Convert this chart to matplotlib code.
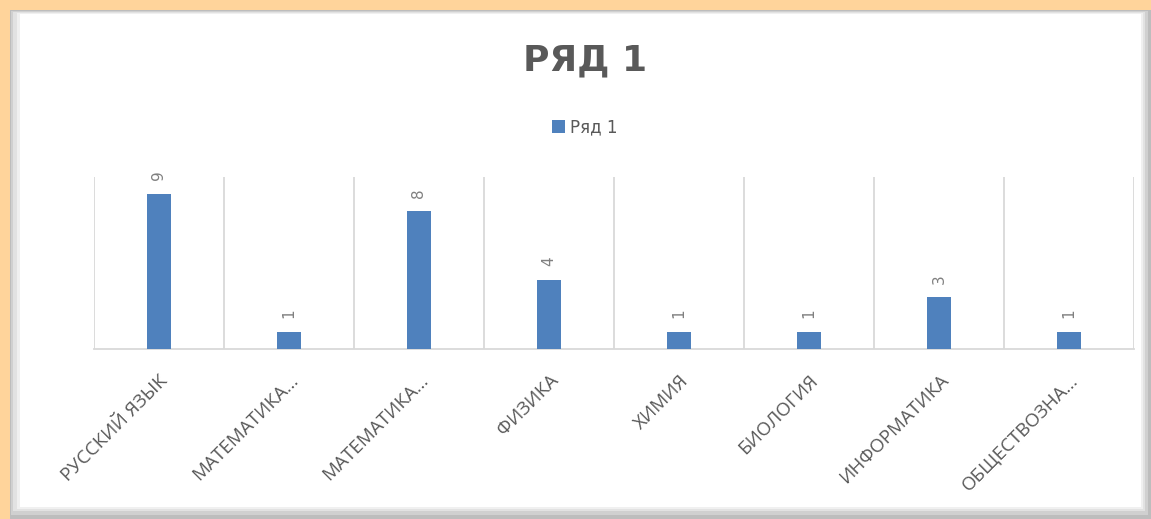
import matplotlib.pyplot as plt
from matplotlib.patches import Rectangle

# chart data
categories = ['РУССКИЙ ЯЗЫК', 'МАТЕМАТИКА…', 'МАТЕМАТИКА…', 'ФИЗИКА',
              'ХИМИЯ', 'БИОЛОГИЯ', 'ИНФОРМАТИКА', 'ОБЩЕСТВОЗНА…']
values = [9, 1, 8, 4, 1, 1, 3, 1]
series_name = 'Ряд 1'
title = 'РЯД 1'

bar_color = '#4F81BD'
grid_color = '#D9D9D9'
text_color = '#595959'

W, H = 1151, 519
fig = plt.figure(figsize=(W / 100, H / 100), dpi=100)
fig.patch.set_facecolor('#FFD49B')

# white card with a soft grey shadow
def px_rect(x0, y0, x1, y1, color):
    fig.patches.append(Rectangle((x0 / W, 1 - y1 / H), (x1 - x0) / W, (y1 - y0) / H,
                                 transform=fig.transFigure, facecolor=color,
                                 edgecolor='none', zorder=-5))

px_rect(10, 10, W, H, '#BDBDBD')
px_rect(11, 11, W - 3, H - 4, '#D0D0D0')
px_rect(13, 12, W - 6, H - 8, '#E2E2E2')
px_rect(17, 13, W - 8, H - 10, '#F0F0F0')
px_rect(20, 14, W - 10, H - 12, 'white')

ax = fig.add_axes([94 / W, 1 - 349 / H, (1134 - 94) / W, (349 - 177) / H])
ax.set_zorder(2)
ax.set_facecolor('none')
x = list(range(len(categories)))
bars = ax.bar(x, values, width=0.185, color=bar_color, label=series_name, zorder=3)

ax.set_xlim(-0.5, len(categories) - 0.5)
ax.set_ylim(0, 10)
ax.set_yticks([])

# vertical grid lines between categories
for b in [i - 0.5 for i in range(len(categories) + 1)]:
    ax.axvline(b, color=grid_color, linewidth=1.3, zorder=1)

for s in ['top', 'right', 'left']:
    ax.spines[s].set_visible(False)
ax.spines['bottom'].set_color(grid_color)
ax.spines['bottom'].set_linewidth(1.3)

ax.set_xticks(x)
ax.set_xticklabels(categories, rotation=45, ha='right', rotation_mode='anchor',
                   fontsize=13.5, color=text_color, family='Open Sans')
ax.tick_params(axis='x', length=0, pad=16)

for rect, v in zip(bars, values):
    ax.annotate(str(v), (rect.get_x() + rect.get_width() / 2, rect.get_height()),
                xytext=(0, 10), textcoords='offset points', rotation=90,
                ha='center', va='bottom', fontsize=11, color='#808080')

fig.text(585 / W, 1 - 60 / H, title, ha='center', va='center',
         fontsize=26, fontweight='bold', color=text_color, zorder=3)

fig.legend(handles=[bars], labels=[series_name], loc='center',
           bbox_to_anchor=(585 / W, 1 - 127 / H), frameon=False, fontsize=12,
           handlelength=0.8, handleheight=0.8, handletextpad=0.3, labelcolor=text_color)

fig.savefig('out.png', dpi=100)
